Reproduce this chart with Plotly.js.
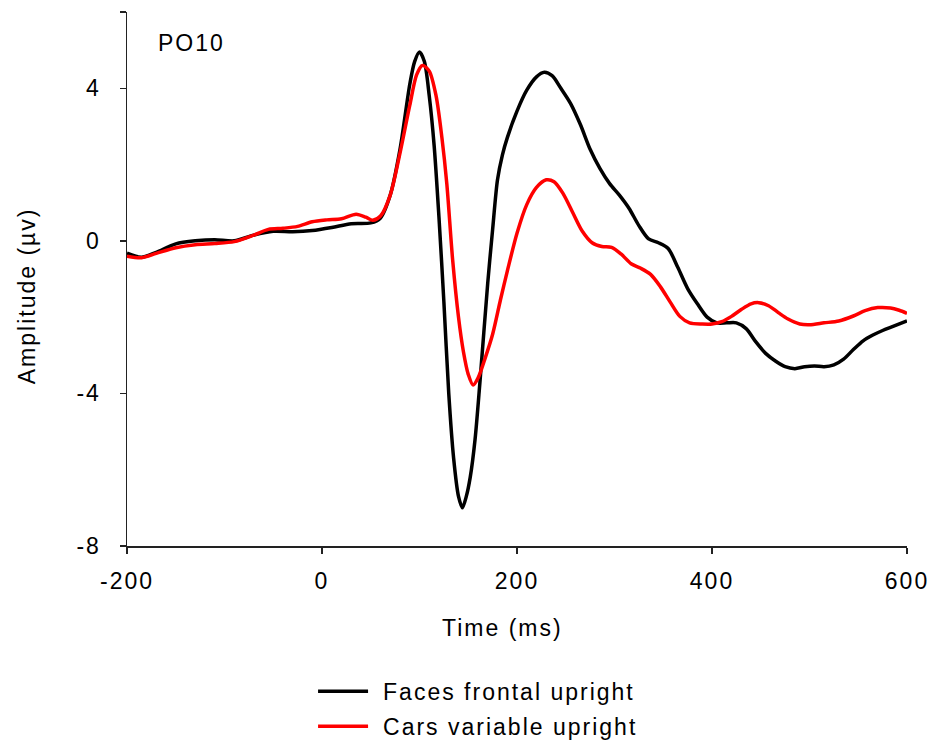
<!DOCTYPE html>
<html>
<head>
<meta charset="utf-8">
<script src="https://cdn.plot.ly/plotly-3.0.1.min.js"></script>
<style>
html,body{margin:0;padding:0;background:#fff;}
#chart{width:930px;height:742px;}
.main-svg text{letter-spacing:2px;}
</style>
</head>
<body>
<div id="chart"></div>
<script>
// Faces frontal upright (black)
const facesTime = [-200,-185,-170,-150,-130,-110,-90,-70,-50,-30,-10,10,30,50,60,70,80,90,95,100,105,110,115,120,125,130,135,140,144,148,152,157,162,170,175,180,185,190,200,210,220,228,236,245,255,265,275,285,295,305,315,325,335,345,355,365,375,385,395,405,415,425,435,445,455,465,475,485,495,505,515,525,535,545,555,565,575,585,600];
const facesAmp = [-0.32,-0.43,-0.3,-0.08,0.0,0.03,0.0,0.15,0.25,0.24,0.27,0.35,0.45,0.47,0.6,1.2,2.4,4.1,4.7,4.95,4.7,3.8,2.5,0.6,-1.6,-4.0,-5.7,-6.7,-7.0,-6.7,-6.2,-5.2,-3.7,-1.1,0.3,1.6,2.25,2.7,3.4,3.95,4.3,4.42,4.33,4.0,3.6,3.05,2.4,1.9,1.5,1.2,0.85,0.4,0.05,-0.05,-0.2,-0.7,-1.25,-1.65,-2.0,-2.15,-2.15,-2.15,-2.3,-2.65,-2.95,-3.15,-3.3,-3.35,-3.3,-3.28,-3.3,-3.25,-3.1,-2.85,-2.62,-2.47,-2.35,-2.25,-2.1];

// Cars variable upright (red)
const carsTime = [-200,-185,-170,-150,-130,-110,-90,-70,-55,-40,-25,-10,5,20,35,45,52,60,70,80,90,97,103,110,117,123,128,134,140,145,150,155,160,167,175,183,190,200,210,220,230,238,247,257,267,277,287,297,307,317,327,337,347,357,367,377,390,400,410,420,430,440,448,458,468,478,490,500,515,530,545,557,570,583,592,600];
const carsAmp = [-0.4,-0.44,-0.33,-0.18,-0.1,-0.07,-0.02,0.15,0.3,0.33,0.38,0.5,0.55,0.58,0.7,0.62,0.54,0.65,1.2,2.3,3.55,4.35,4.6,4.45,3.8,2.7,1.5,-0.5,-2.0,-2.9,-3.5,-3.78,-3.6,-3.1,-2.45,-1.55,-0.8,0.2,0.95,1.4,1.6,1.55,1.25,0.75,0.25,-0.05,-0.15,-0.17,-0.35,-0.6,-0.72,-0.88,-1.2,-1.6,-1.98,-2.15,-2.18,-2.18,-2.12,-1.98,-1.8,-1.65,-1.62,-1.7,-1.88,-2.05,-2.18,-2.2,-2.15,-2.1,-1.97,-1.83,-1.75,-1.76,-1.82,-1.9];

const seriesNames = ["Faces frontal upright", "Cars variable upright"];
const xTicks = [-200, 0, 200, 400, 600];
const xTickText = ["-200", "0", "200", "400", "600"];
const yTicks = [-8, -4, 0, 4, 6];
const yTickText = ["-8", "-4", "0", "4", ""];
const xTitle = "Time (ms)";
const yTitle = "Amplitude (µv)";
const panelLabel = "PO10";

const fontFam = "Liberation Sans, Arial, sans-serif";

const traces = [
  {x: facesTime, y: facesAmp, name: seriesNames[0], type: "scatter", mode: "lines",
   line: {color: "#000000", width: 3.5, shape: "spline", smoothing: 0.8}, legendgroup: "a"},
  {x: carsTime, y: carsAmp, name: seriesNames[1], type: "scatter", mode: "lines",
   line: {color: "#ff0000", width: 3.5, shape: "spline", smoothing: 0.8}, legendgroup: "b"}
];

const layout = {
  width: 930, height: 742,
  paper_bgcolor: "#ffffff", plot_bgcolor: "#ffffff",
  margin: {l: 127, r: 23, t: 12, b: 196, autoexpand: false},
  font: {family: fontFam, size: 23, color: "#000"},
  showlegend: true,
  legend: {x: 0.277, xanchor: "left", y: -0.232, yanchor: "top", tracegroupgap: 2,
           font: {family: fontFam, size: 23, color: "#000"}, bgcolor: "rgba(0,0,0,0)"},
  xaxis: {range: [-200, 600], tickvals: xTicks, ticktext: xTickText, ticks: "outside", ticklen: 6, tickwidth: 1.5,
          tickcolor: "#222", showline: true, linecolor: "#222", linewidth: 1.5,
          showgrid: false, zeroline: false, ticklabelstandoff: 8, automargin: false},
  yaxis: {range: [-8, 6], tickvals: yTicks, ticktext: yTickText, ticks: "outside", ticklen: 6,
          tickwidth: 1.5, tickcolor: "#222", showline: true, linecolor: "#222", linewidth: 1.5,
          showgrid: false, zeroline: false, ticklabelstandoff: 14, automargin: false},
  annotations: [
    {text: panelLabel, xref: "paper", yref: "paper", x: 0.042, y: 0.942, xanchor: "left", yanchor: "middle",
     showarrow: false, font: {family: fontFam, size: 23, color: "#000"}},
    {text: xTitle, xref: "paper", yref: "paper", x: 0.482, y: -0.1536, xanchor: "center", yanchor: "middle",
     showarrow: false, font: {family: fontFam, size: 23, color: "#000"}},
    {text: yTitle, xref: "paper", yref: "paper", x: -0.128, y: 0.468, xanchor: "center", yanchor: "middle",
     textangle: -90, showarrow: false, font: {family: fontFam, size: 23, color: "#000"}}
  ]
};

Plotly.newPlot("chart", traces, layout, {displayModeBar: false, staticPlot: true}).then(function () {
  document.querySelectorAll(".legend .scrollbox, .legend").forEach(function (el) {
    el.removeAttribute("clip-path");
  });
  document.querySelectorAll(".legend rect.bg").forEach(function (el) {
    el.setAttribute("width", "400");
  });
  // longer legend line samples, as in the original figure
  document.querySelectorAll(".legend .legendlines path").forEach(function (el) {
    el.setAttribute("d", "M-25,0h50");
  });
});
</script>
</body>
</html>
